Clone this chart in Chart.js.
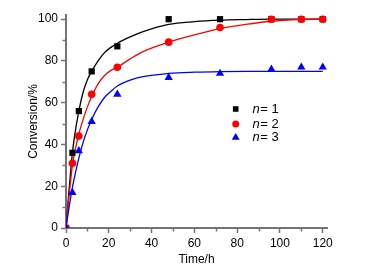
<!DOCTYPE html>
<html>
<head>
<meta charset="utf-8">
<script src="https://cdn.jsdelivr.net/npm/chart.js@4/dist/chart.umd.min.js"></script>
<style>
html,body{margin:0;padding:0;background:#fff;}
#wrap{position:relative;width:378px;height:271px;}
</style>
</head>
<body>
<div id="wrap"><canvas id="c" width="378" height="271"></canvas></div>
<script>
// measured data points
const times = [0, 3, 6, 12, 24, 48, 72, 96, 110, 120];
const n1 = [0, 36, 56, 75, 87, 100, 100, 100, 100, 100];
const n2 = [0, 31, 44, 64, 77, 89, 96, 100, 100, 100];
const n3 = [0, 17, 37, 51, 64, 72, 74, 76, 77, 77];
// fitted curves
const fitTimes = [0, 1, 2, 3, 4, 6, 8, 10, 12, 15, 18, 21, 24, 30, 36, 48, 60, 72, 84, 96, 108, 120];
const fit1 = [0, 13, 25, 36, 44, 56, 65, 71, 75, 80, 84, 86.5, 88.5, 91.5, 94, 97.5, 98.8, 99.5, 99.8, 100, 100, 100];
const fit2 = [0, 11, 21, 30, 36, 45, 52, 58, 63, 69, 73, 75.5, 77, 81, 84.5, 89, 92.5, 95.5, 97.5, 99, 99.8, 100];
const fit3 = [0, 7, 13.5, 19.5, 24.5, 33.5, 41, 47, 52, 58, 62.5, 65.5, 68, 70.8, 72.5, 74, 74.6, 74.9, 75, 75, 75, 75];
const legendLabels = ['1', '2', '3'];

const FONT = 'Arial, "Liberation Sans", sans-serif';
const AXIS = '#747474';

function pts(xs, ys) { return xs.map((x, i) => ({x: x, y: ys[i]})); }

const series = [
  {label: 'n = 1', color: '#000000', shape: 'rect', r: 4.4, data: n1, fit: fit1},
  {label: 'n = 2', color: '#ff0000', shape: 'circle', r: 3.8, data: n2, fit: fit2},
  {label: 'n = 3', color: '#0000ff', shape: 'triangle', r: 4.8, data: n3, fit: fit3}
];

const datasets = [];
series.forEach((s, i) => {
  datasets.push({
    type: 'scatter', label: s.label, data: pts(times, s.data),
    pointStyle: s.shape, pointRadius: s.r, pointBackgroundColor: s.color,
    pointBorderColor: s.color, pointBorderWidth: 0, showLine: false, order: 3 - i
  });
});
series.forEach((s, i) => {
  datasets.push({
    type: 'line', label: s.label + ' fit', data: pts(fitTimes, s.fit),
    borderColor: s.color, borderWidth: 1.3, pointRadius: 0, fill: false,
    cubicInterpolationMode: 'monotone', order: 20 - i
  });
});

const minorTicks = {
  id: 'minorTicks',
  afterDraw(chart) {
    const ctx = chart.ctx;
    const xs = chart.scales.x, ys = chart.scales.y;
    ctx.save();
    ctx.strokeStyle = AXIS;
    ctx.lineWidth = 1.5;
    ctx.beginPath();
    xs.ticks.forEach(t => {
      if (t.value % 20 !== 0) {
        const px = Math.round(xs.getPixelForValue(t.value)) + 0.5;
        ctx.moveTo(px, ys.bottom); ctx.lineTo(px, ys.bottom + 3.5);
      }
    });
    ys.ticks.forEach(t => {
      if (t.value % 20 !== 0) {
        const py = Math.round(ys.getPixelForValue(t.value)) + 0.5;
        ctx.moveTo(xs.left, py); ctx.lineTo(xs.left - 3.5, py);
      }
    });
    ctx.stroke();
    ctx.restore();
  }
};

const customLegend = {
  id: 'customLegend',
  afterDraw(chart) {
    const ctx = chart.ctx;
    const mx = 235.7, tx = 252.5;
    const rows = [109, 124, 137.5];
    ctx.save();
    series.forEach((s, i) => {
      const y = rows[i];
      ctx.fillStyle = s.color;
      ctx.beginPath();
      if (s.shape === 'rect') { const h = 2.8; ctx.rect(mx - h, y - h, 2 * h, 2 * h); }
      else if (s.shape === 'circle') { ctx.arc(mx, y, 3.5, 0, Math.PI * 2); }
      else { const r = 4.6; ctx.moveTo(mx, y - r); ctx.lineTo(mx + r * 0.866, y + r / 2); ctx.lineTo(mx - r * 0.866, y + r / 2); ctx.closePath(); }
      ctx.fill();
      ctx.fillStyle = '#000';
      ctx.textBaseline = 'middle';
      ctx.textAlign = 'left';
      ctx.font = 'italic 13px ' + FONT;
      ctx.fillText('n', tx, y);
      const w = ctx.measureText('n').width;
      ctx.font = '13px ' + FONT;
      ctx.fillText('= ' + legendLabels[i], tx + w + 0.5, y);
    });
    ctx.restore();
  }
};

new Chart(document.getElementById('c'), {
  type: 'scatter',
  data: {datasets: datasets},
  options: {
    responsive: false,
    animation: false,
    devicePixelRatio: 1,
    layout: {padding: {top: 15, right: 51, left: 0, bottom: 0}},
    plugins: {legend: {display: false}, tooltip: {enabled: false}},
    scales: {
      x: {
        type: 'linear', min: 0, max: 122,
        afterFit(s) { s.height = 43; },
        border: {color: AXIS, width: 2},
        grid: {drawOnChartArea: false, drawTicks: true, tickLength: 5, tickWidth: 1.5,
               tickColor: c => (c.tick && c.tick.value % 20 === 0) ? AXIS : 'rgba(0,0,0,0)'},
        ticks: {stepSize: 10, includeBounds: false, autoSkip: false, maxRotation: 0, padding: 3,
                color: '#000', font: {family: FONT, size: 12},
                callback: v => (v % 20 === 0 ? String(v) : '')},
        title: {display: true, text: 'Time/h', color: '#000', font: {family: FONT, size: 12},
                padding: {top: 0, bottom: 4}}
      },
      y: {
        type: 'linear', min: 0, max: 102,
        afterFit(s) { s.width = 66; },
        border: {color: AXIS, width: 2},
        grid: {drawOnChartArea: false, drawTicks: true, tickLength: 5, tickWidth: 1.5,
               tickColor: c => (c.tick && c.tick.value % 20 === 0) ? AXIS : 'rgba(0,0,0,0)'},
        ticks: {stepSize: 10, includeBounds: false, autoSkip: false, padding: 3,
                color: '#000', font: {family: FONT, size: 12},
                callback: v => (v % 20 === 0 ? String(v) : '')},
        title: {display: true, text: 'Conversion/%', color: '#000', font: {family: FONT, size: 12},
                padding: {top: 26, bottom: 0}}
      }
    }
  },
  plugins: [minorTicks, customLegend]
});
</script>
</body>
</html>
